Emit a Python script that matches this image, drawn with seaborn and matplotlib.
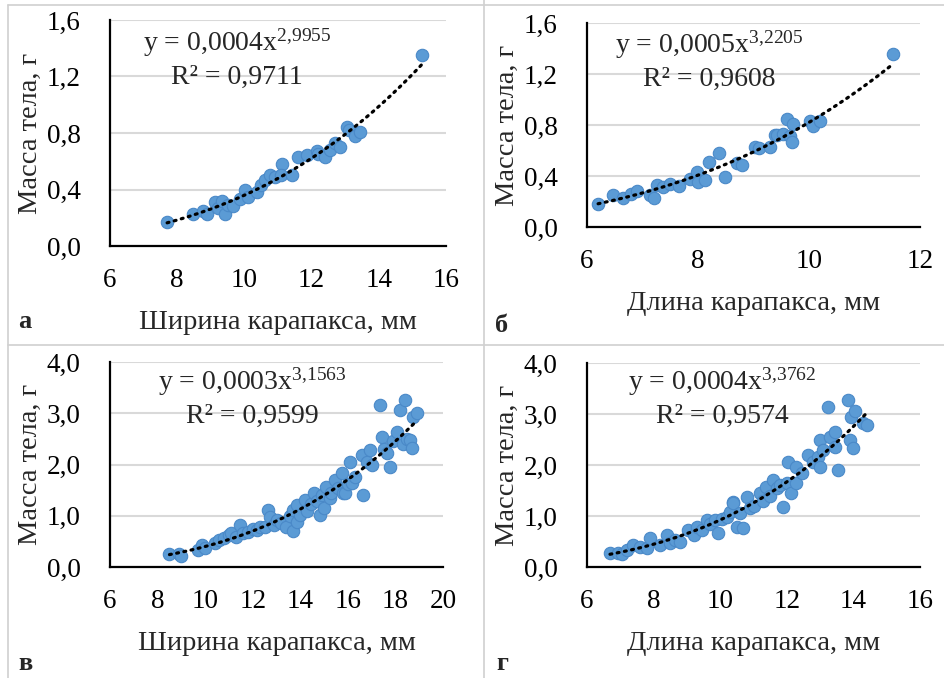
import numpy as np
import matplotlib
matplotlib.use("Agg")
import matplotlib.pyplot as plt
from matplotlib.lines import Line2D
from matplotlib.ticker import FuncFormatter
import seaborn as sns

# ---- data ----
a_x = [7.7, 8.48, 8.78, 8.9, 9.13, 9.2, 9.32, 9.42, 9.5, 9.67, 9.87, 10.02, 10.1, 10.37, 10.5,
       10.61, 10.76, 10.9, 11.11, 11.1, 11.41, 11.6, 11.85, 12.15, 12.2, 12.4, 12.55, 12.7, 12.85,
       13.04, 13.1, 13.3, 13.45, 15.3]
a_y = [0.17, 0.23, 0.25, 0.23, 0.31, 0.27, 0.32, 0.23, 0.29, 0.28, 0.33, 0.40, 0.35, 0.38, 0.43,
       0.47, 0.50, 0.49, 0.58, 0.50, 0.50, 0.63, 0.645, 0.67, 0.65, 0.63, 0.68, 0.73, 0.70,
       0.84, 0.82, 0.78, 0.81, 1.35]

b_x = [6.2, 6.47, 6.65, 6.8, 6.9, 7.14, 7.2, 7.26, 7.37, 7.5, 7.65, 7.86, 7.98, 8.0, 8.13, 8.19,
       8.37, 8.49, 8.7, 8.8, 9.03, 9.1, 9.3, 9.39, 9.42, 9.54, 9.6, 9.66, 9.69, 9.72, 10.02, 10.08,
       10.2, 11.51]
b_y = [0.18, 0.25, 0.225, 0.26, 0.285, 0.25, 0.23, 0.33, 0.316, 0.34, 0.32, 0.38, 0.43, 0.355,
       0.37, 0.51, 0.58, 0.395, 0.50, 0.49, 0.63, 0.62, 0.63, 0.72, 0.72, 0.73, 0.85, 0.71, 0.67,
       0.81, 0.83, 0.79, 0.83, 1.36]

c_x = [8.5, 8.9, 9.0, 9.7, 9.85, 10.0, 10.4, 10.6, 10.8, 11.0, 11.1, 11.3, 11.45, 11.6, 11.8,
       12.0, 12.2, 12.3, 12.5, 12.65, 12.73, 12.9, 13.0, 13.2, 13.4, 13.55, 13.7, 13.7, 13.85,
       13.85, 14.0, 14.2, 14.3, 14.45, 14.56, 14.7, 14.83, 14.9, 15.0, 15.1, 15.25, 15.3, 15.46,
       15.6, 15.74, 15.8, 15.88, 16.0, 16.09, 16.16, 16.3, 16.58, 16.65, 16.8, 16.93, 17.0, 17.35,
       17.42, 17.5, 17.63, 17.77, 17.9, 18.05, 18.19, 18.3, 18.4, 18.47, 18.61, 18.68, 18.75, 18.89]
c_y = [0.25, 0.25, 0.22, 0.33, 0.42, 0.38, 0.46, 0.52, 0.56, 0.62, 0.66, 0.58, 0.82, 0.66, 0.68,
       0.75, 0.72, 0.79, 0.78, 1.12, 0.98, 0.82, 0.92, 0.85, 0.79, 1.0, 1.12, 0.70, 1.21,
       0.88, 1.02, 1.31, 1.10, 1.22, 1.44, 1.28, 1.01, 1.40, 1.15, 1.57, 1.35, 1.45, 1.70,
       1.55, 1.83, 1.45, 1.44, 1.62, 2.05, 1.63, 1.75, 2.18, 1.40, 2.05, 2.28, 2.00, 3.16,
       2.54, 2.30, 2.22, 1.96, 2.45, 2.64, 3.06, 2.40, 3.26, 2.50, 2.48, 2.32, 2.93, 3.0]

d_x = [6.69, 6.94, 7.05, 7.19, 7.39, 7.59, 7.8, 7.89, 8.19, 8.39, 8.5, 8.64, 8.8, 9.04, 9.2, 9.29,
       9.45, 9.59, 9.7, 9.84, 9.94, 10.05, 10.19, 10.29, 10.39, 10.39, 10.49, 10.6, 10.69, 10.79,
       10.9, 11.0, 11.19, 11.3, 11.39, 11.5, 11.59, 11.7, 11.8, 11.89, 12.0, 12.04, 12.14, 12.29,
       12.29, 12.45, 12.64, 12.8, 12.94, 12.99, 12.99, 13.1, 13.24, 13.29, 13.44, 13.44, 13.54,
       13.84, 13.89, 13.94, 13.99, 14.05, 14.29, 14.4]
d_y = [0.27, 0.27, 0.25, 0.33, 0.43, 0.40, 0.37, 0.56, 0.43, 0.63, 0.48, 0.53, 0.50, 0.73, 0.62,
       0.79, 0.72, 0.92, 0.85, 0.92, 0.66, 0.95, 0.99, 1.08, 1.28, 1.25, 0.79, 1.05, 0.76, 1.38,
       1.15, 1.20, 1.45, 1.30, 1.57, 1.40, 1.71, 1.55, 1.60, 1.18, 1.65, 2.06, 1.45, 1.64,
       1.97, 1.85, 2.20, 2.05, 2.16, 2.49, 1.97, 2.30, 3.14, 2.55, 2.36, 2.65, 1.90, 3.27,
       2.49, 2.94, 2.33, 3.05, 2.82, 2.78]

x_width = "Ширина карапакса, мм"
x_length = "Длина карапакса, мм"
y_label = "Масса тела, г"

sns.set_style("white")
plt.rcParams['font.family'] = ['Liberation Serif', 'DejaVu Serif']
plt.rcParams['mathtext.fontset'] = 'custom'
plt.rcParams['mathtext.rm'] = 'Liberation Serif'
plt.rcParams['mathtext.it'] = 'Liberation Serif'

W, H = 944, 678
fig = plt.figure(figsize=(W / 100, H / 100), dpi=100)

POINT = '#5B9BD5'
EDGE = '#4A89C8'


def px_axes(left, top, right, bottom):
    return fig.add_axes([left / W, 1 - bottom / H, (right - left) / W, (bottom - top) / H])


def comma(v, pos):
    return f"{v:.1f}".replace('.', ',')


def draw_panel(ax, x, y, xlim, ylim, ystep, xlabel, eq1, eq2, eq_xy):
    sns.scatterplot(x=x, y=y, ax=ax, color=POINT, edgecolor=EDGE, linewidth=0.8, s=80, zorder=3)

    # power trend line, fitted in log space like Excel does
    b, ln_a = np.polyfit(np.log(x), np.log(y), 1)
    xs = np.linspace(min(x), max(x), 200)
    ax.plot(xs, np.exp(ln_a) * xs ** b, color='black', lw=2.3,
            linestyle=(0, (0.6, 1.7)), dash_capstyle='round', zorder=4)

    ax.set_xlim(*xlim)
    ax.set_ylim(*ylim)
    ax.set_xticks(np.arange(xlim[0], xlim[1] + 0.01, 2))
    ax.set_yticks(np.arange(ylim[0], ylim[1] + 0.001, ystep))
    ax.yaxis.set_major_formatter(FuncFormatter(comma))
    ax.grid(axis='y', color='#d9d9d9', lw=1.5)
    ax.set_axisbelow(True)
    for side in ['top', 'right']:
        ax.spines[side].set_visible(False)
    for side in ['left', 'bottom']:
        ax.spines[side].set_color('black')
        ax.spines[side].set_linewidth(1.6)
    ax.tick_params(axis='both', direction='in', length=6, width=1.5, colors='black', labelsize=19.5)
    ax.tick_params(axis='x', pad=16)
    ax.tick_params(axis='y', pad=21)
    ax.set_xlabel(xlabel, fontsize=20.5, labelpad=12)
    ax.set_ylabel(y_label, fontsize=20.5, labelpad=3)

    ex, ey = eq_xy
    fig.text(ex / W, 1 - ey / H, eq1, fontsize=20, ha='center', va='center')
    fig.text(ex / W, 1 - (ey + 34) / H, eq2, fontsize=20, ha='center', va='center')


ax_a = px_axes(110, 20, 446, 246)
draw_panel(ax_a, a_x, a_y, (6, 16), (0, 1.6), 0.4, x_width,
           r"y = 0,0004x$^{\mathrm{2{,}9955}}$", "R² = 0,9711", (237, 43))

ax_b = px_axes(587, 23, 920, 227)
draw_panel(ax_b, b_x, b_y, (6, 12), (0, 1.6), 0.4, x_length,
           r"y = 0,0005x$^{\mathrm{3{,}2205}}$", "R² = 0,9608", (709, 45))

ax_c = px_axes(110, 362, 443, 567)
draw_panel(ax_c, c_x, c_y, (6, 20), (0, 4.0), 1.0, x_width,
           r"y = 0,0003x$^{\mathrm{3{,}1563}}$", "R² = 0,9599", (252, 382))

ax_d = px_axes(587, 363, 920, 567)
draw_panel(ax_d, d_x, d_y, (6, 16), (0, 4.0), 1.0, x_length,
           r"y = 0,0004x$^{\mathrm{3{,}3762}}$", "R² = 0,9574", (722, 382))

# panel letters
for letter, (lx, ly) in zip(['а', 'б', 'в', 'г'], [(25, 322), (502, 326), (25, 664), (502, 664)]):
    fig.text(lx / W, 1 - ly / H, letter, fontsize=19, fontweight='bold', ha='center', va='center')

# thin table borders between panels
border = '#d0d0d0'
for xs_, ys_ in [((8, W), (5, 5)), ((8, 8), (5, H)), ((484, 484), (0, H)), ((8, W), (345, 345))]:
    fig.add_artist(Line2D([xs_[0] / W, xs_[1] / W], [1 - ys_[0] / H, 1 - ys_[1] / H],
                          color=border, lw=1.2, transform=fig.transFigure))

fig.savefig("out.png", dpi=100)
